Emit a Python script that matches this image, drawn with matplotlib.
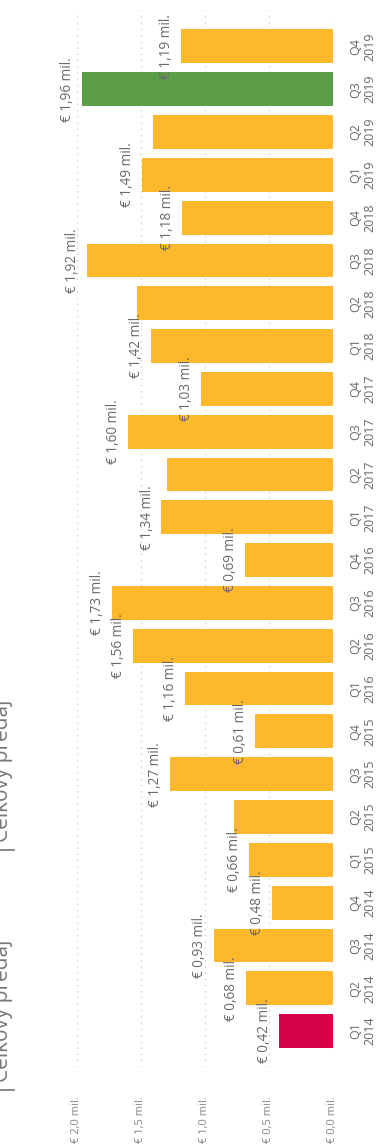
import matplotlib
matplotlib.use('Agg')
import matplotlib.pyplot as plt

quarters = ['Q1', 'Q2', 'Q3', 'Q4'] * 6
years = ['2014'] * 4 + ['2015'] * 4 + ['2016'] * 4 + ['2017'] * 4 + ['2018'] * 4 + ['2019'] * 4
sales = [0.42, 0.68, 0.93, 0.48,
         0.66, 0.77, 1.27, 0.61,
         1.16, 1.56, 1.73, 0.69,
         1.34, 1.30, 1.60, 1.03,
         1.42, 1.53, 1.92, 1.18,
         1.49, 1.41, 1.96, 1.19]
# bars where the original hides the data label
hidden = {5, 13, 17, 21}
value_ticks = [0.0, 0.5, 1.0, 1.5, 2.0]
legend_items = ['Celkový predaj', 'Celkový predaj']

YELLOW, GREEN, RED = '#FDB82C', '#5C9E48', '#D6004B'
colors = [YELLOW] * len(sales)
colors[sales.index(min(sales))] = RED
colors[sales.index(max(sales))] = GREEN

plt.rcParams['font.family'] = ['Open Sans', 'DejaVu Sans']
W, H = 390, 1146
fig = plt.figure(figsize=(W / 100, H / 100), dpi=100)
ax = fig.add_axes([77 / W, (H - 1067) / H, (333 - 77) / W, (1067 - 10) / H])

pos = list(range(len(sales)))
ax.barh(pos, sales, height=0.79, color=colors, zorder=2)
ax.set_xlim(2.0, 0.0)
ax.set_ylim(-0.84, 23.85)

for i, v in enumerate(sales):
    if i in hidden:
        continue
    ax.annotate('€ %s mil.' % ('%.2f' % v).replace('.', ','), (v, i), xytext=(-5, 0),
                textcoords='offset points', rotation=90, ha='right', va='center',
                fontsize=9.8, color='#6a6a6a', zorder=3, annotation_clip=False)

ax.set_xticks(value_ticks)
ax.set_xticklabels(['€ %s mil.' % ('%.1f' % t).replace('.', ',') for t in value_ticks],
                   rotation=90, ha='center', va='top', color='#858585', fontsize=8)
ax.tick_params(axis='x', length=0, pad=21)
ax.yaxis.tick_right()
ax.set_yticks(pos)
ax.set_yticklabels(['%s\n%s' % (q, y) for q, y in zip(quarters, years)], rotation=90,
                   ha='left', va='center', multialignment='center', color='#6a6a6a',
                   fontsize=9, linespacing=1.1)
ax.tick_params(axis='y', length=0, pad=12)
ax.grid(axis='x', color='#c8c8c8', linestyle=(0, (1, 4)), lw=0.9, zorder=0)
for s in ax.spines.values():
    s.set_visible(False)

# legend squeezed against the left edge
for yp, lab in zip([1090, 850], legend_items):
    fig.add_artist(plt.Line2D([0, 14 / W], [(H - yp) / H] * 2, color='#777777', lw=1.2))
    fig.text(13 / W, (H - yp + 8) / H, lab, rotation=90, ha='right', va='bottom',
             fontsize=15, color='#777777')

fig.savefig('out.png', dpi=100, facecolor='white')
